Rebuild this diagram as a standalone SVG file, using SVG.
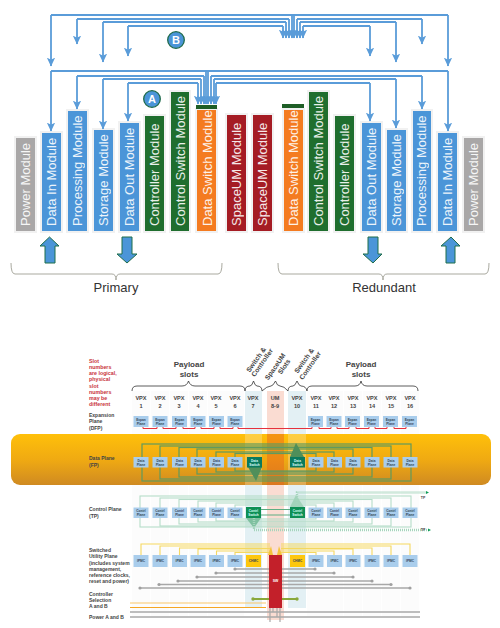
<svg xmlns="http://www.w3.org/2000/svg" width="500" height="628" viewBox="0 0 500 628">
<style>
text{font-family:"Liberation Sans",Arial,sans-serif}
.m{font-size:13px;fill:#fff;opacity:.9}
.pl{fill:#f1f1f1}
.bl{fill:#4b95d8}.gn{fill:#1f6e2e}.or{fill:#f47b20}.rd{fill:#a51c24}.gy{fill:#a9a7a7}
.cap{fill:#1e5e26}
.line{fill:none;stroke:#5a9cd9;stroke-width:1.8}
.wire{fill:none;stroke:#5a9cd9;stroke-width:1.8;marker-end:url(#ah)}
.big{fill:#4b95d8;stroke:#1f6e4a;stroke-width:1}
.brace{fill:none;stroke:#a9a99f;stroke-width:1}
.h1{font-size:13px;fill:#333;text-anchor:middle}
.cir{fill:#4b95d8;stroke:#1e6a4a;stroke-width:1.3}
.cirt{font-size:11px;font-weight:bold;fill:#fff;text-anchor:middle}
.lab{font-size:5px;font-weight:bold;fill:#444}
.red{font-size:5.300px;font-weight:bold;fill:#c8323c}
.pay{font-size:8px;font-weight:bold;fill:#444;text-anchor:middle}
.rot{font-size:6.800px;font-weight:bold;fill:#444;text-anchor:middle}
.vpx{font-size:5.6px;font-weight:bold;fill:#444;text-anchor:middle}
.box{fill:#a9cdec}
.sw{fill:#0b7a5e}
.sc{fill:#0e8f55}
.ch{fill:#fdc70d}
.t{font-size:3.2px;font-weight:bold;fill:#345;text-anchor:middle}
.tw{font-size:3.2px;font-weight:bold;fill:#dff;text-anchor:middle}
.slot{fill:#fcfcfc}
.sb{fill:none;stroke:#333;stroke-width:.8}
.exp{fill:none;stroke:#e6313c;stroke-width:1}
.dp{fill:none;stroke:#5f9a5e;stroke-width:1.2}
.cp{fill:none;stroke:#b5dcc8;stroke-width:1.1}
.dash{fill:none;stroke:#a5d5bc;stroke-width:2.4;stroke-dasharray:1 1}
.yl{fill:none;stroke:#f5d85f;stroke-width:1.1}
.g{fill:none;stroke:#a8a8a8;stroke-width:1.6}
.gd{fill:#a0a0a0}
.gr{fill:none;stroke:#8aa83a;stroke-width:1.8}
.grd{fill:#8aa83a}
</style>
<defs>
<marker id="ah" markerUnits="userSpaceOnUse" markerWidth="9" markerHeight="9" viewBox="0 0 8 8" refX="7.5" refY="4" orient="auto"><path d="M0 0.3L8 4L0 7.7L2 4z" fill="#5a9cd9"/></marker>
<linearGradient id="band" x1="0" y1="0" x2="0" y2="1"><stop offset="0" stop-color="#ffc00a"/><stop offset=".5" stop-color="#f0aa12"/><stop offset="1" stop-color="#cf8a22"/></linearGradient>
</defs>
<rect width="500" height="628" fill="#fff"/>

<g id="modules">
<g id="m-power-l"><rect class="pl" x="14" y="136" width="23" height="97"/><rect class="gy" x="16" y="138" width="19" height="93"/><text class="m" transform="translate(30 226) rotate(-90)">Power Module</text></g>
<g id="m-datain-l"><rect class="pl" x="40" y="131" width="23" height="102"/><rect class="bl" x="42" y="133" width="19" height="98"/><text class="m" transform="translate(56 226) rotate(-90)">Data In Module</text></g>
<g id="m-proc-l"><rect class="pl" x="66" y="109" width="23" height="124"/><rect class="bl" x="68" y="111" width="19" height="120"/><text class="m" transform="translate(82 226) rotate(-90)">Processing Module</text></g>
<g id="m-stor-l"><rect class="pl" x="92" y="128" width="23" height="105"/><rect class="bl" x="94" y="130" width="19" height="101"/><text class="m" transform="translate(108 226) rotate(-90)">Storage Module</text></g>
<g id="m-out-l"><rect class="pl" x="118" y="121" width="23" height="112"/><rect class="bl" x="120" y="123" width="19" height="108"/><text class="m" transform="translate(134 226) rotate(-90)">Data Out Module</text></g>
<g id="m-ctrl-l"><rect class="pl" x="143" y="114" width="23" height="119"/><rect class="gn" x="145" y="116" width="19" height="115"/><text class="m" transform="translate(159 226) rotate(-90)">Controller Module</text></g>
<g id="m-csw-l"><rect class="pl" x="169" y="90" width="22" height="143"/><rect class="gn" x="171" y="92" width="18" height="139"/><text class="m" transform="translate(185 226) rotate(-90)">Control Switch Module</text></g>
<g id="m-dsw-l"><rect class="pl" x="195" y="108" width="23" height="125"/><rect class="or" x="197" y="110" width="19" height="121"/><rect class="cap" x="196" y="105" width="21" height="4"/><text class="m" transform="translate(212 226) rotate(-90)">Data Switch Module</text></g>
<g id="m-um-l"><rect class="pl" x="225" y="113" width="23" height="120"/><rect class="rd" x="227" y="115" width="19" height="116"/><text class="m" transform="translate(241 226) rotate(-90)">SpaceUM Module</text></g>
<g id="m-um-r"><rect class="pl" x="251" y="113" width="23" height="120"/><rect class="rd" x="253" y="115" width="19" height="116"/><text class="m" transform="translate(267 226) rotate(-90)">SpaceUM Module</text></g>
<g id="m-dsw-r"><rect class="pl" x="282" y="108" width="23" height="125"/><rect class="or" x="284" y="110" width="19" height="121"/><rect class="cap" x="282" y="104" width="22" height="4"/><text class="m" transform="translate(298 226) rotate(-90)">Data Switch Module</text></g>
<g id="m-csw-r"><rect class="pl" x="307" y="90" width="23" height="143"/><rect class="gn" x="309" y="92" width="19" height="139"/><text class="m" transform="translate(323 226) rotate(-90)">Control Switch Module</text></g>
<g id="m-ctrl-r"><rect class="pl" x="333" y="114" width="23" height="119"/><rect class="gn" x="335" y="116" width="19" height="115"/><text class="m" transform="translate(349 226) rotate(-90)">Controller Module</text></g>
<g id="m-out-r"><rect class="pl" x="360" y="121" width="23" height="112"/><rect class="bl" x="362" y="123" width="19" height="108"/><text class="m" transform="translate(376 226) rotate(-90)">Data Out Module</text></g>
<g id="m-stor-r"><rect class="pl" x="385" y="128" width="23" height="105"/><rect class="bl" x="387" y="130" width="19" height="101"/><text class="m" transform="translate(401 226) rotate(-90)">Storage Module</text></g>
<g id="m-proc-r"><rect class="pl" x="411" y="109" width="22" height="124"/><rect class="bl" x="413" y="111" width="18" height="120"/><text class="m" transform="translate(426 226) rotate(-90)">Processing Module</text></g>
<g id="m-datain-r"><rect class="pl" x="436" y="131" width="23" height="102"/><rect class="bl" x="438" y="133" width="19" height="98"/><text class="m" transform="translate(452 226) rotate(-90)">Data In Module</text></g>
<g id="m-power-r"><rect class="pl" x="462" y="136" width="23" height="97"/><rect class="gy" x="464" y="138" width="19" height="93"/><text class="m" transform="translate(478 226) rotate(-90)">Power Module</text></g>
</g>

<g id="connectors-top">
<path class="line" d="M51 15H448"/><path class="line" d="M77 19H289M297 19H422"/><path class="line" d="M103 22H286M300 22H396"/><path class="line" d="M128 26H283M303 26H370"/>
<path class="wire" d="M51 15V66"/><path class="wire" d="M77 19V44"/><path class="wire" d="M103 22V62"/><path class="wire" d="M128 26V56"/>
<path class="wire" d="M448 15V66"/><path class="wire" d="M422 19V44"/><path class="wire" d="M396 22V62"/><path class="wire" d="M370 26V56"/>
<path class="wire" d="M283 26V38"/><path class="wire" d="M286 22V38"/><path class="wire" d="M289 19V38"/><path class="wire" d="M292 15V38"/><path class="wire" d="M294 15V38"/><path class="wire" d="M297 19V38"/><path class="wire" d="M300 22V38"/><path class="wire" d="M303 26V38"/>
<path class="line" d="M51 71H448"/><path class="line" d="M77 76H204M211 76H422"/><path class="line" d="M103 79H201M214 79H396"/><path class="line" d="M128 83H198M216 83H370"/>
<path class="wire" d="M51 71V131"/><path class="wire" d="M77 76V109"/><path class="wire" d="M103 79V129"/><path class="wire" d="M128 83V121"/>
<path class="wire" d="M448 71V131"/><path class="wire" d="M422 76V109"/><path class="wire" d="M396 79V128"/><path class="wire" d="M370 83V121"/>
<path class="wire" d="M198 83V104"/><path class="wire" d="M201 79V104"/><path class="wire" d="M204 76V104"/><path class="wire" d="M206 71V104"/><path class="wire" d="M208 71V104"/><path class="wire" d="M211 76V104"/><path class="wire" d="M214 79V104"/><path class="wire" d="M216 83V104"/>
</g>

<g id="badge-b"><circle class="cir" cx="176" cy="40" r="8.3"/><text class="cirt" x="176" y="44">B</text></g>
<g id="badge-a"><circle class="cir" cx="152" cy="99" r="8.3"/><text class="cirt" x="152" y="103">A</text></g>

<g id="io-arrows">
<polygon class="big" points="49.5,237 40,246 45,246 45,263 55,263 55,246 59,246"/>
<polygon class="big" points="122,237 132,237 132,254 137,254 127,263 117,254 122,254"/>
<polygon class="big" points="368,237 378,237 378,254 382,254 373,263 363,254 368,254"/>
<polygon class="big" points="451,237 441,246 446,246 446,263 455,263 455,246 460,246"/>
</g>
<g id="braces">
<path class="brace" d="M11 263Q11 274 15 274H112Q116 274 116 280Q116 274 120 274H218Q222 274 222 263"/>
<path class="brace" d="M278 263Q278 274 282 274H379Q383 274 383 280Q383 274 387 274H485Q489 274 489 263"/>
<text class="h1" x="116" y="292">Primary</text>
<text class="h1" x="384" y="292">Redundant</text>
</g>

<g id="slot-columns">
<rect class="slot" x="132" y="391" width="18" height="225"/><rect class="slot" x="151" y="391" width="18" height="225"/><rect class="slot" x="170" y="391" width="18" height="225"/><rect class="slot" x="189" y="391" width="18" height="225"/><rect class="slot" x="208" y="391" width="18" height="225"/><rect class="slot" x="226" y="391" width="18" height="225"/>
<rect class="slot" x="307" y="391" width="18" height="225"/><rect class="slot" x="325" y="391" width="18" height="225"/><rect class="slot" x="344" y="391" width="18" height="225"/><rect class="slot" x="363" y="391" width="18" height="225"/><rect class="slot" x="382" y="391" width="18" height="225"/><rect class="slot" x="401" y="391" width="18" height="225"/>
</g>
<g id="highlight-columns">
<rect x="245" y="391" width="17" height="217" fill="#e3f0f4"/>
<rect x="267" y="391" width="17" height="229" fill="#fadcd2"/>
<rect x="288" y="391" width="18" height="217" fill="#e3f0f4"/>
</g>
<rect id="data-plane-band" x="11" y="434" width="480" height="51" rx="9" fill="url(#band)"/>
<g id="highlight-over-band">
<rect x="245" y="434" width="17" height="51" fill="#fff3c8" opacity=".3"/>
<rect x="267" y="434" width="17" height="51" fill="#e8601c" opacity=".45"/>
<rect x="288" y="434" width="18" height="51" fill="#fff3c8" opacity=".3"/>
</g>

<g id="header-labels">
<text class="red" x="89" y="363">Slot</text><text class="red" x="89" y="369">numbers</text><text class="red" x="89" y="375">are logical,</text><text class="red" x="89" y="381">physical</text><text class="red" x="89" y="388">slot</text><text class="red" x="89" y="394">numbers</text><text class="red" x="89" y="400">may be</text><text class="red" x="89" y="406">different</text>
<text class="lab" x="89" y="417">Expansion</text><text class="lab" x="89" y="423">Plane</text><text class="lab" x="89" y="430">(DFP)</text>
<text class="pay" x="189" y="367">Payload</text><text class="pay" x="189" y="377">slots</text>
<text class="pay" x="361" y="367">Payload</text><text class="pay" x="361" y="377">slots</text>
<text class="rot" transform="translate(258 361) rotate(-55)">Switch &amp;</text><text class="rot" transform="translate(264 364) rotate(-55)">Controller</text>
<text class="rot" transform="translate(277 368) rotate(-55)">SpaceUM</text><text class="rot" transform="translate(286 368) rotate(-55)">Slots</text>
<text class="rot" transform="translate(306 362) rotate(-55)">Switch &amp;</text><text class="rot" transform="translate(312 367) rotate(-55)">Controller</text>
<path class="sb" d="M132 391Q132 386 137 386H182Q187 386 188.500 381Q190 386 195 386H240Q245 386 245 391"/>
<path class="sb" d="M245 391Q245 386 250 386Q252 386 253.500 381Q255 386 257 386Q262 386 262 391"/>
<path class="sb" d="M262 391Q267 386 271 386Q273 386 275.500 381Q277 386 280 386Q284 386 288 391"/>
<path class="sb" d="M288 391Q288 386 293 386Q295 386 297 381Q299 386 301 386Q306 386 307 391"/>
<path class="sb" d="M307 391Q307 386 312 386H355Q360 386 361 381Q362 386 367 386H413Q418 386 418 391"/>
<text class="vpx" x="141" y="400">VPX</text><text class="vpx" x="141" y="408">1</text>
<text class="vpx" x="160" y="400">VPX</text><text class="vpx" x="160" y="408">2</text>
<text class="vpx" x="179" y="400">VPX</text><text class="vpx" x="179" y="408">3</text>
<text class="vpx" x="198" y="400">VPX</text><text class="vpx" x="198" y="408">4</text>
<text class="vpx" x="216" y="400">VPX</text><text class="vpx" x="216" y="408">5</text>
<text class="vpx" x="235" y="400">VPX</text><text class="vpx" x="235" y="408">6</text>
<text class="vpx" x="253" y="400">VPX</text><text class="vpx" x="253" y="408">7</text>
<text class="vpx" x="275" y="400">UM</text><text class="vpx" x="275" y="408">8-9</text>
<text class="vpx" x="297" y="400">VPX</text><text class="vpx" x="297" y="408">10</text>
<text class="vpx" x="316" y="400">VPX</text><text class="vpx" x="316" y="408">11</text>
<text class="vpx" x="334" y="400">VPX</text><text class="vpx" x="334" y="408">12</text>
<text class="vpx" x="353" y="400">VPX</text><text class="vpx" x="353" y="408">13</text>
<text class="vpx" x="372" y="400">VPX</text><text class="vpx" x="372" y="408">14</text>
<text class="vpx" x="391" y="400">VPX</text><text class="vpx" x="391" y="408">15</text>
<text class="vpx" x="410" y="400">VPX</text><text class="vpx" x="410" y="408">16</text>
</g>

<g id="connectors-expansion">
<path class="exp" d="M143 427V428.500H157V427M163 427V428.500H176V427M183 427V428.500H195V427M201 427V428.500H214V427M220 427V428.500H233V427M238 427V428.500H312V427M319 427V428.500H331V427M337 427V428.500H349V427M356 427V428.500H369V427M375 427V428.500H387V427M394 427V428.500H406V427"/>
</g>
<g id="expansion-nodes">
<g id="e1"><rect class="box" x="133.500" y="416" width="15" height="11"/><text class="t" x="141" y="421">Expan</text><text class="t" x="141" y="425">Plane</text></g>
<g id="e2"><rect class="box" x="152.500" y="416" width="15" height="11"/><text class="t" x="160" y="421">Expan</text><text class="t" x="160" y="425">Plane</text></g>
<g id="e3"><rect class="box" x="172" y="416" width="15" height="11"/><text class="t" x="179.500" y="421">Expan</text><text class="t" x="179.500" y="425">Plane</text></g>
<g id="e4"><rect class="box" x="190.500" y="416" width="15" height="11"/><text class="t" x="198" y="421">Expan</text><text class="t" x="198" y="425">Plane</text></g>
<g id="e5"><rect class="box" x="209" y="416" width="15" height="11"/><text class="t" x="216.500" y="421">Expan</text><text class="t" x="216.500" y="425">Plane</text></g>
<g id="e6"><rect class="box" x="227.500" y="416" width="15" height="11"/><text class="t" x="235" y="421">Expan</text><text class="t" x="235" y="425">Plane</text></g>
<g id="e11"><rect class="box" x="308" y="416" width="15" height="11"/><text class="t" x="315.500" y="421">Expan</text><text class="t" x="315.500" y="425">Plane</text></g>
<g id="e12"><rect class="box" x="326.500" y="416" width="15" height="11"/><text class="t" x="334" y="421">Expan</text><text class="t" x="334" y="425">Plane</text></g>
<g id="e13"><rect class="box" x="345" y="416" width="15" height="11"/><text class="t" x="352.500" y="421">Expan</text><text class="t" x="352.500" y="425">Plane</text></g>
<g id="e14"><rect class="box" x="364" y="416" width="15" height="11"/><text class="t" x="371.500" y="421">Expan</text><text class="t" x="371.500" y="425">Plane</text></g>
<g id="e15"><rect class="box" x="383" y="416" width="15" height="11"/><text class="t" x="390.500" y="421">Expan</text><text class="t" x="390.500" y="425">Plane</text></g>
<g id="e16"><rect class="box" x="402" y="416" width="15" height="11"/><text class="t" x="409.500" y="421">Expan</text><text class="t" x="409.500" y="425">Plane</text></g>
</g>

<text class="lab" x="89" y="460">Data Plane</text><text class="lab" x="89" y="467">(FP)</text>
<g id="connectors-data">
<rect class="dp" x="142" y="444" width="269" height="37"/><rect class="dp" x="160" y="446" width="231" height="33"/><rect class="dp" x="179" y="447.500" width="193" height="29.500"/><rect class="dp" x="197" y="449" width="156" height="25"/><rect class="dp" x="216" y="452" width="118" height="20"/><rect class="dp" x="235" y="453.500" width="81" height="17.500"/>
<polygon points="296,443 290,457 304,457" fill="#4f8f5a"/>
<polygon points="256,481 248,467 262,467" fill="#4f8f5a"/>
</g>
<g id="data-nodes">
<g id="d1"><rect class="box" x="133.500" y="457" width="15" height="10.500"/><text class="t" x="141" y="461.500">Data</text><text class="t" x="141" y="465.500">Plane</text></g>
<g id="d2"><rect class="box" x="152.500" y="457" width="15" height="10.500"/><text class="t" x="160" y="461.500">Data</text><text class="t" x="160" y="465.500">Plane</text></g>
<g id="d3"><rect class="box" x="172" y="457" width="15" height="10.500"/><text class="t" x="179.500" y="461.500">Data</text><text class="t" x="179.500" y="465.500">Plane</text></g>
<g id="d4"><rect class="box" x="190.500" y="457" width="15" height="10.500"/><text class="t" x="198" y="461.500">Data</text><text class="t" x="198" y="465.500">Plane</text></g>
<g id="d5"><rect class="box" x="209" y="457" width="15" height="10.500"/><text class="t" x="216.500" y="461.500">Data</text><text class="t" x="216.500" y="465.500">Plane</text></g>
<g id="d6"><rect class="box" x="227.500" y="457" width="15" height="10.500"/><text class="t" x="235" y="461.500">Data</text><text class="t" x="235" y="465.500">Plane</text></g>
<g id="d7"><rect class="sw" x="247" y="457" width="15" height="10.500"/><text class="tw" x="254.500" y="461.500">Data</text><text class="tw" x="254.500" y="465.500">Switch</text></g>
<g id="d10"><rect class="sw" x="290" y="457" width="15" height="10.500"/><text class="tw" x="297.500" y="461.500">Data</text><text class="tw" x="297.500" y="465.500">Switch</text></g>
<g id="d11"><rect class="box" x="308.500" y="457" width="15" height="10.500"/><text class="t" x="316" y="461.500">Data</text><text class="t" x="316" y="465.500">Plane</text></g>
<g id="d12"><rect class="box" x="327" y="457" width="15" height="10.500"/><text class="t" x="334.500" y="461.500">Data</text><text class="t" x="334.500" y="465.500">Plane</text></g>
<g id="d13"><rect class="box" x="345.500" y="457" width="15" height="10.500"/><text class="t" x="353" y="461.500">Data</text><text class="t" x="353" y="465.500">Plane</text></g>
<g id="d14"><rect class="box" x="364.500" y="457" width="15" height="10.500"/><text class="t" x="372" y="461.500">Data</text><text class="t" x="372" y="465.500">Plane</text></g>
<g id="d15"><rect class="box" x="383.500" y="457" width="15" height="10.500"/><text class="t" x="391" y="461.500">Data</text><text class="t" x="391" y="465.500">Plane</text></g>
<g id="d16"><rect class="box" x="402.500" y="457" width="15" height="10.500"/><text class="t" x="410" y="461.500">Data</text><text class="t" x="410" y="465.500">Plane</text></g>
</g>

<text class="lab" x="89" y="511">Control Plane</text><text class="lab" x="89" y="518">(TP)</text>
<g id="connectors-control">
<rect class="cp" x="140" y="496" width="271" height="31"/><rect class="cp" x="160" y="498" width="231" height="28"/><rect class="cp" x="179" y="499.500" width="193" height="24.500"/><rect class="cp" x="198" y="501" width="155" height="21"/><rect class="cp" x="216" y="503" width="118" height="18"/><rect class="cp" x="235" y="505" width="81" height="14"/>
<path d="M261 509.500H290M261 515H290" fill="none" stroke="#5cae82" stroke-width="1"/>
<polygon points="296,495 290,507 304,507" fill="#a3d3bb"/>
<polygon points="254,528 246,518 261,518" fill="#7fc0a0"/>
<path class="dash" d="M297 507V492.500H426"/><path class="dash" d="M254 518V530H428"/>
<polygon points="426,491 429,492.500 426,494" fill="#0f9d58"/><polygon points="428,528.500 431,530 428,531.500" fill="#0f9d58"/>
<text x="423" y="499" style="font-size:3.5px;font-weight:bold;fill:#444;text-anchor:middle">TP</text>
<text x="423" y="531" style="font-size:3.5px;font-weight:bold;fill:#444;text-anchor:middle">TP</text>
</g>
<g id="control-nodes">
<g id="c1"><rect class="box" x="133.500" y="507.500" width="15" height="10.500"/><text class="t" x="141" y="512">Contrl</text><text class="t" x="141" y="516">Plane</text></g>
<g id="c2"><rect class="box" x="152.500" y="507.500" width="15" height="10.500"/><text class="t" x="160" y="512">Contrl</text><text class="t" x="160" y="516">Plane</text></g>
<g id="c3"><rect class="box" x="172" y="507.500" width="15" height="10.500"/><text class="t" x="179.500" y="512">Contrl</text><text class="t" x="179.500" y="516">Plane</text></g>
<g id="c4"><rect class="box" x="190.500" y="507.500" width="15" height="10.500"/><text class="t" x="198" y="512">Contrl</text><text class="t" x="198" y="516">Plane</text></g>
<g id="c5"><rect class="box" x="209" y="507.500" width="15" height="10.500"/><text class="t" x="216.500" y="512">Contrl</text><text class="t" x="216.500" y="516">Plane</text></g>
<g id="c6"><rect class="box" x="227.500" y="507.500" width="15" height="10.500"/><text class="t" x="235" y="512">Contrl</text><text class="t" x="235" y="516">Plane</text></g>
<g id="c7"><rect class="sc" x="246" y="507" width="15" height="11"/><text class="tw" x="253.500" y="512">Contrl</text><text class="tw" x="253.500" y="516">Switch</text></g>
<g id="c10"><rect class="sc" x="290" y="507" width="15" height="11"/><text class="tw" x="297.500" y="512">Contrl</text><text class="tw" x="297.500" y="516">Switch</text></g>
<g id="c11"><rect class="box" x="308.500" y="507.500" width="15" height="10.500"/><text class="t" x="316" y="512">Contrl</text><text class="t" x="316" y="516">Plane</text></g>
<g id="c12"><rect class="box" x="327" y="507.500" width="15" height="10.500"/><text class="t" x="334.500" y="512">Contrl</text><text class="t" x="334.500" y="516">Plane</text></g>
<g id="c13"><rect class="box" x="345.500" y="507.500" width="15" height="10.500"/><text class="t" x="353" y="512">Contrl</text><text class="t" x="353" y="516">Plane</text></g>
<g id="c14"><rect class="box" x="364.500" y="507.500" width="15" height="10.500"/><text class="t" x="372" y="512">Contrl</text><text class="t" x="372" y="516">Plane</text></g>
<g id="c15"><rect class="box" x="383.500" y="507.500" width="15" height="10.500"/><text class="t" x="391" y="512">Contrl</text><text class="t" x="391" y="516">Plane</text></g>
<g id="c16"><rect class="box" x="402.500" y="507.500" width="15" height="10.500"/><text class="t" x="410" y="512">Contrl</text><text class="t" x="410" y="516">Plane</text></g>
</g>

<g id="utility-labels">
<text class="lab" x="89" y="552">Switched</text><text class="lab" x="89" y="558">Utility Plane</text><text class="lab" x="89" y="565">(includes system</text><text class="lab" x="89" y="571">management,</text><text class="lab" x="89" y="577">reference clocks,</text><text class="lab" x="89" y="583">reset and power)</text>
<text class="lab" x="89" y="596">Controller</text><text class="lab" x="89" y="602">Selection</text><text class="lab" x="89" y="608">A and B</text><text class="lab" x="89" y="619">Power A and B</text>
</g>
<g id="connectors-utility">
<path class="yl" d="M141 555V544H270M160 555V546H270M179.500 555V548H270M198 555V549H270M216.500 555V551H270M235 555V552.500H270"/>
<path class="yl" d="M410 555V544H281M391 555V546H281M372 555V548H281M353 555V549H281M334 555V551H281M316 555V552.500H281"/>
<polygon points="271,546 268,555 273,555" fill="#f5c33b"/><polygon points="279,546 277,555 282,555" fill="#f5c33b"/>
<path class="g" d="M235 569H269M216 573H269M197 577H269M178 581H269M159 584.500H269M140 588H269"/>
<path class="g" d="M315 569H282M334 573H282M353 577H282M372 581H282M391 584.500H282M410 588H282"/>
<circle class="gd" cx="235" cy="569" r="1.600"/><circle class="gd" cx="216" cy="573" r="1.600"/><circle class="gd" cx="197" cy="577" r="1.600"/><circle class="gd" cx="178" cy="581" r="1.600"/><circle class="gd" cx="159" cy="584.500" r="1.600"/><circle class="gd" cx="140" cy="588" r="1.600"/>
<circle class="gd" cx="315" cy="569" r="1.600"/><circle class="gd" cx="334" cy="573" r="1.600"/><circle class="gd" cx="353" cy="577" r="1.600"/><circle class="gd" cx="372" cy="581" r="1.600"/><circle class="gd" cx="391" cy="584.500" r="1.600"/><circle class="gd" cx="410" cy="588" r="1.600"/>
<path class="gr" d="M253 599H269M282 599H297"/><circle class="grd" cx="253" cy="599" r="1.700"/><circle class="grd" cx="297" cy="599" r="1.700"/>
<path d="M130 603H266" fill="none" stroke="#f9c76a" stroke-width="1"/><path d="M130 607.500H266" fill="none" stroke="#f5a623" stroke-width="1"/>
<path class="g" d="M130 612H420M130 617H420"/>
<path class="g" style="stroke-width:1.200" d="M270 608V622M273 608V612M277 608V617M280 608V622"/>
</g>
<g id="utility-nodes">
<g id="u1"><rect class="box" x="133.500" y="555" width="15" height="12"/><text class="t" x="141" y="562">IPMC</text></g>
<g id="u2"><rect class="box" x="152.500" y="555" width="15" height="12"/><text class="t" x="160" y="562">IPMC</text></g>
<g id="u3"><rect class="box" x="172" y="555" width="15" height="12"/><text class="t" x="179.500" y="562">IPMC</text></g>
<g id="u4"><rect class="box" x="190.500" y="555" width="15" height="12"/><text class="t" x="198" y="562">IPMC</text></g>
<g id="u5"><rect class="box" x="209" y="555" width="15" height="12"/><text class="t" x="216.500" y="562">IPMC</text></g>
<g id="u6"><rect class="box" x="227.500" y="555" width="15" height="12"/><text class="t" x="235" y="562">IPMC</text></g>
<g id="u7"><rect class="ch" x="246" y="555" width="15" height="12"/><text class="t" x="253.500" y="562">CHMC</text></g>
<g id="sw"><rect x="269" y="555" width="13" height="53" fill="#c3202a"/><text x="275.500" y="582" style="font-size:3.5px;font-weight:bold;fill:#fff;text-anchor:middle">SW</text></g>
<g id="u10"><rect class="ch" x="290" y="555" width="15" height="12"/><text class="t" x="297.500" y="562">CHMC</text></g>
<g id="u11"><rect class="box" x="308.500" y="555" width="15" height="12"/><text class="t" x="316" y="562">IPMC</text></g>
<g id="u12"><rect class="box" x="327" y="555" width="15" height="12"/><text class="t" x="334.500" y="562">IPMC</text></g>
<g id="u13"><rect class="box" x="345.500" y="555" width="15" height="12"/><text class="t" x="353" y="562">IPMC</text></g>
<g id="u14"><rect class="box" x="364.500" y="555" width="15" height="12"/><text class="t" x="372" y="562">IPMC</text></g>
<g id="u15"><rect class="box" x="383.500" y="555" width="15" height="12"/><text class="t" x="391" y="562">IPMC</text></g>
<g id="u16"><rect class="box" x="402.500" y="555" width="15" height="12"/><text class="t" x="410" y="562">IPMC</text></g>
</g>
</svg>
